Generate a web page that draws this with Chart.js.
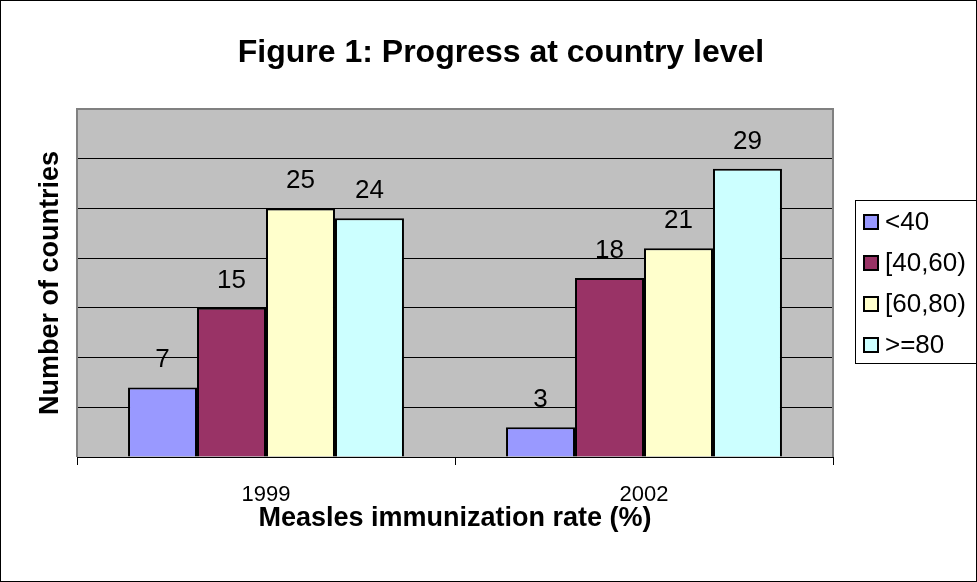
<!DOCTYPE html>
<html>
<head>
<meta charset="utf-8">
<script src="https://cdn.jsdelivr.net/npm/chart.js@4/dist/chart.umd.min.js"></script>
<style>
html, body { margin: 0; padding: 0; background: #fff; }
#wrap { width: 977px; height: 582px; position: relative; }
</style>
</head>
<body>
<div id="wrap"><canvas id="chart"></canvas></div>
<script>
// data
const years = ['1999', '2002'];
const groupNames = ['<40', '[40,60)', '[60,80)', '>=80'];
const under40 = [7, 3];
const from40to60 = [15, 18];
const from60to80 = [25, 21];
const over80 = [24, 29];
const groupColors = ['#9999FF', '#993366', '#FFFFCC', '#CCFFFF'];
const yMax = 35;
const yStep = 5;

const fontFam = '"Liberation Sans", Arial, sans-serif';
const titleText = 'Figure 1: Progress at country level';

let seriesValues = [under40, from40to60, from60to80, over80];
let datasets = groupNames.map(function(name, i){
  return {
    label: name,
    data: seriesValues[i],
    backgroundColor: groupColors[i],
    borderColor: '#000',
    borderWidth: 2
  };
});

// plot background, borders, value labels, legend and title
const decor = {
  id: 'decor',
  beforeDraw(chart){
    const a = chart.chartArea, c = chart.ctx;
    c.save();
    c.fillStyle = '#fff';
    c.fillRect(0, 0, chart.width, chart.height);
    c.fillStyle = '#C0C0C0';
    c.fillRect(a.left, a.top, a.right - a.left, a.bottom - a.top);
    c.restore();
  },
  beforeDatasetsDraw(chart){
    const a = chart.chartArea, c = chart.ctx;
    c.save();
    c.strokeStyle = '#808080';
    c.lineWidth = 2;
    c.beginPath();
    c.moveTo(a.left, a.bottom);
    c.lineTo(a.left, a.top);
    c.lineTo(a.right, a.top);
    c.lineTo(a.right, a.bottom);
    c.stroke();
    c.restore();
  },
  afterDatasetsDraw(chart){
    const c = chart.ctx;
    c.save();
    c.font = '26px ' + fontFam;
    c.fillStyle = '#000';
    c.textAlign = 'center';
    c.textBaseline = 'alphabetic';
    chart.data.datasets.forEach(function(ds, i){
      chart.getDatasetMeta(i).data.forEach(function(bar, j){
        c.fillText(String(ds.data[j]), bar.x, bar.y - 20);
      });
    });
    c.restore();
  },
  afterDraw(chart){
    const c = chart.ctx;
    c.save();
    // legend
    let lx = 855, ly = 200, lw = 122, lh = 163;
    c.strokeStyle = '#000';
    c.lineWidth = 1;
    c.strokeRect(lx + 0.5, ly + 0.5, lw, lh);
    c.font = '26px ' + fontFam;
    c.textBaseline = 'middle';
    c.textAlign = 'left';
    chart.data.datasets.forEach(function(ds, i){
      let cy = ly + 22 + i * 41;
      c.fillStyle = ds.backgroundColor;
      c.fillRect(lx + 9, cy - 7, 14, 14);
      c.strokeStyle = '#000';
      c.lineWidth = 2;
      c.strokeRect(lx + 9, cy - 7, 14, 14);
      c.fillStyle = '#000';
      c.fillText(ds.label, lx + 30, cy + 1);
    });
    // title
    c.font = 'bold 32px ' + fontFam;
    c.textAlign = 'center';
    c.fillText(titleText, 501, 53);
    // outer frame
    c.lineWidth = 1;
    c.strokeRect(0.5, 0.5, chart.width - 1, chart.height - 1);
    c.restore();
  }
};

const chart = new Chart(document.getElementById('chart'), {
  type: 'bar',
  data: { labels: years, datasets: datasets },
  plugins: [decor],
  options: {
    responsive: true,
    maintainAspectRatio: false,
    animation: false,
    layout: { padding: { left: 33, right: 144, top: 109, bottom: 40 } },
    datasets: { bar: { categoryPercentage: 0.73, barPercentage: 1 } },
    plugins: {
      legend: { display: false },
      title: { display: false },
      tooltip: { enabled: false }
    },
    scales: {
      x: {
        grid: { display: true, offset: true, drawOnChartArea: false, drawTicks: true, tickLength: 8, color: '#000' },
        border: { display: true, color: '#000', width: 1 },
        ticks: { color: '#000', padding: 19.3, font: { family: fontFam, size: 22, lineHeight: 1 } },
        title: {
          display: true,
          text: 'Measles immunization rate (%)',
          color: '#000',
          font: { family: fontFam, size: 27, weight: 'bold', lineHeight: 1 },
          padding: { top: -20.6, bottom: 10 }
        }
      },
      y: {
        min: 0,
        max: yMax,
        grid: { color: '#000', drawTicks: false, lineWidth: 1 },
        border: { display: false },
        ticks: { display: false, stepSize: yStep },
        title: {
          display: true,
          text: 'Number of countries',
          color: '#000',
          font: { family: fontFam, size: 27, weight: 'bold', lineHeight: 1 },
          padding: { top: 4, bottom: 13 }
        }
      }
    }
  }
});
</script>
</body>
</html>
